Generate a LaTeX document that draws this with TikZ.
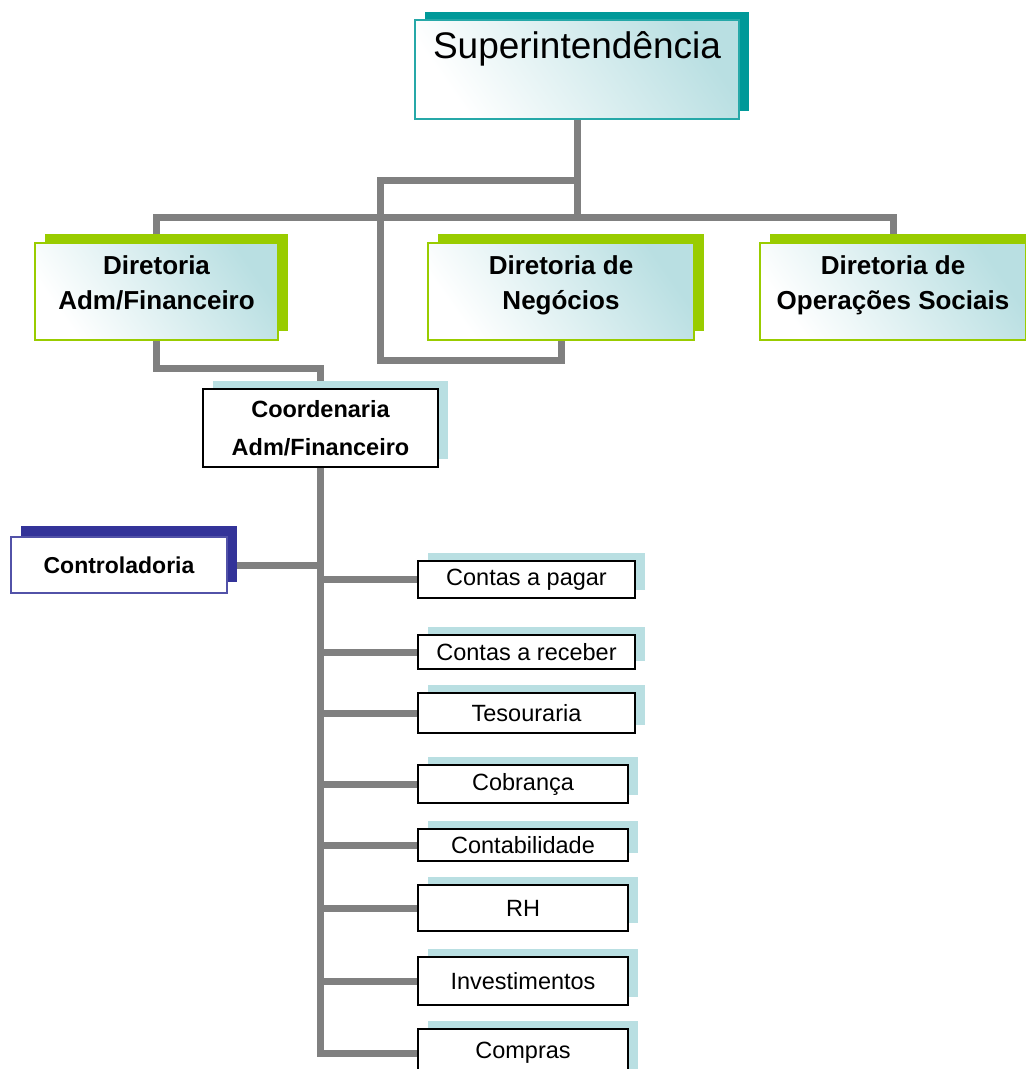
\documentclass[tikz,border=0pt]{standalone}
\usepackage{fontspec}
\setmainfont{Liberation Sans}
\usepackage{tikz}
\usetikzlibrary{shadows,backgrounds,calc}
\definecolor{supteal}{HTML}{009999}
\definecolor{dirgreen}{HTML}{99CC00}
\definecolor{paleblue}{HTML}{B9DFE2}
\definecolor{ctrlblue}{HTML}{333399}
\definecolor{linegray}{HTML}{808080}

\begin{document}
\begin{tikzpicture}[
  x=1pt, y=-1pt,
  conn/.style={draw=linegray, line width=7pt},
  glow/.style={top color=paleblue, middle color=white!90!paleblue, bottom color=white, shading angle=-55},
  supbox/.style={glow, draw=supteal!85, line width=1.5pt, minimum width=324pt, minimum height=99pt, inner ysep=3pt, text height=35pt, text depth=58pt, font=\fontsize{37}{40}\selectfont, general shadow={fill=supteal, shadow xshift=10pt, shadow yshift=8pt}},
  dirbox/.style={glow, draw=dirgreen, line width=1.5pt, minimum width=266pt, minimum height=97pt, inner sep=0pt, text height=66pt, text depth=31pt, align=center, font=\bfseries\fontsize{26}{35}\selectfont, general shadow={fill=dirgreen, shadow xshift=10pt, shadow yshift=9pt}},
  coordbox/.style={draw, fill=white, line width=2pt, minimum width=235pt, minimum height=78pt, inner sep=0pt, align=center, font=\bfseries\fontsize{23.5}{38}\selectfont, general shadow={fill=paleblue, shadow xshift=10pt, shadow yshift=8pt}},
  ctrlbox/.style={draw=ctrlblue!85, fill=white, line width=1.5pt, minimum width=216pt, minimum height=56pt, inner sep=0pt, font=\bfseries\fontsize{23}{28}\selectfont, general shadow={fill=ctrlblue, shadow xshift=10pt, shadow yshift=11pt}},
  unitbox/.style={draw, fill=white, line width=1.6pt, inner sep=0pt, font=\fontsize{23.5}{28}\selectfont, general shadow={fill=paleblue, shadow xshift=10pt, shadow yshift=8pt}}
]
\useasboundingbox (0,0) rectangle (1026,1069);

% Top
\node[supbox] (sup) at (577,69.5) {Superintendência};

% Diretorias
\node[dirbox, minimum width=243pt] (dadm) at (156.5,291.5) {Diretoria\\Adm/Financeiro};
\node[dirbox] (dneg) at (561,291.5) {Diretoria de\\Negócios};
\node[dirbox] (dop) at (893,291.5) {Diretoria de\\Operações Sociais};

% Coordenaria
\node[coordbox] (coord) at (320.5,428) {Coordenaria\\Adm/Financeiro};
\node[ctrlbox] (ctrl) at (119,565) {Controladoria};

% Units
\node[unitbox, minimum width=217pt, minimum height=37pt] (pagar) at (526.5,579.5) {Contas a pagar};
\node[unitbox, minimum width=217pt, minimum height=34pt] (receber) at (526.5,652) {Contas a receber};
\node[unitbox, minimum width=217pt, minimum height=40pt] (tesouraria) at (526.5,713) {Tesouraria};
\node[unitbox, minimum width=210pt, minimum height=38pt] (cobranca) at (523,784) {Cobrança};
\node[unitbox, minimum width=210pt, minimum height=32pt] (contab) at (523,845) {Contabilidade};
\node[unitbox, minimum width=210pt, minimum height=46pt] (rh) at (523,908) {RH};
\node[unitbox, minimum width=210pt, minimum height=48pt] (invest) at (523,981) {Investimentos};
\node[unitbox, minimum width=210pt, minimum height=48pt] (compras) at (523,1053) {Compras};

% Joints
\coordinate (bus) at (577,217);
\coordinate (negloop) at (380,360);
\coordinate (negtop) at (577,180);
\coordinate (admjoin) at (320.5,368);

% Connectors
\begin{scope}[on background layer]
\draw[conn] (sup.south) -- (bus);
\draw[conn] (dadm.north) |- (bus) -| (dop.north);
\draw[conn] (dneg.south) |- (negloop) |- (negtop);
\draw[conn] (dadm.south) |- (admjoin) -- (coord.north);
\draw[conn] (coord.south) |- (compras.west);
\draw[conn] (ctrl.east) -- (ctrl.east -| coord.south);
\draw[conn] (coord.south |- pagar.west) -- (pagar.west);
\draw[conn] (coord.south |- receber.west) -- (receber.west);
\draw[conn] (coord.south |- tesouraria.west) -- (tesouraria.west);
\draw[conn] (coord.south |- cobranca.west) -- (cobranca.west);
\draw[conn] (coord.south |- contab.west) -- (contab.west);
\draw[conn] (coord.south |- rh.west) -- (rh.west);
\draw[conn] (coord.south |- invest.west) -- (invest.west);
\end{scope}

\end{tikzpicture}
\end{document}
